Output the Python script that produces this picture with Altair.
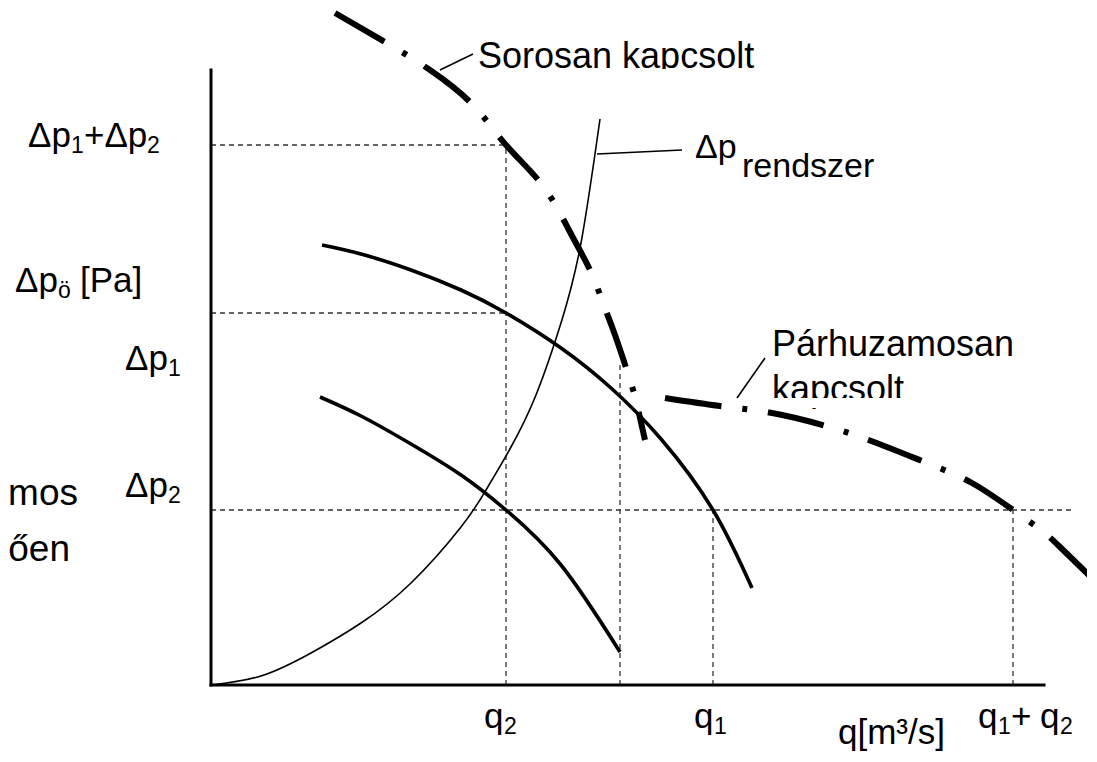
import altair as alt
import pandas as pd

# ---- reference levels (data units) ----
Q2, Q1, Q12, Q_MID = 2.95, 5.02, 8.02, 4.09
DP1, DP2, DP12 = 3.72, 1.75, 5.40

# ---- curves ----
sys_q = [0.0, 0.5, 1.0, 1.5, 2.0, 2.5, 2.75, 3.0, 3.25, 3.5, 3.7, 3.89]
sys_dp = [0.0, 0.09, 0.32, 0.62, 1.02, 1.58, 1.95, 2.38, 2.90, 3.62, 4.42, 5.66]

pump1_q = [1.11, 1.5, 2.0, 2.5, 2.95, 3.5, 4.0, 4.5, 5.02, 5.41]
pump1_dp = [4.40, 4.31, 4.15, 3.95, 3.72, 3.37, 2.97, 2.46, 1.75, 0.97]

pump2_q = [1.09, 1.5, 2.0, 2.5, 2.95, 3.5, 4.09]
pump2_dp = [2.88, 2.69, 2.41, 2.10, 1.75, 1.20, 0.33]

series_q = [1.24, 1.74, 2.19, 2.62, 2.95, 3.32, 3.59, 3.79, 3.92, 4.04, 4.19, 4.26, 4.34]
series_dp = [6.72, 6.43, 6.15, 5.80, 5.40, 4.99, 4.53, 4.15, 3.82, 3.50, 3.05, 2.80, 2.45]

par_q = [4.54, 5.09, 5.61, 6.15, 6.63, 7.16, 7.61, 8.02, 8.30, 8.49, 8.86]
par_dp = [2.87, 2.79, 2.72, 2.59, 2.43, 2.22, 2.02, 1.75, 1.55, 1.38, 1.02]

# ---- chart geometry ----
W, H = 1079, 744
XS = alt.Scale(domain=[-2.03, 8.76], nice=False, zero=False)
YS = alt.Scale(domain=[-0.67, 6.77], nice=False, zero=False)
FONT = "Liberation Sans"


def curve_df(q, dp, name):
    return pd.DataFrame({"q": q, "dp": dp, "i": range(len(q)), "c": name})


def X(f="q"):
    return alt.X(f"{f}:Q", scale=XS, axis=None)


def Y(f="dp"):
    return alt.Y(f"{f}:Q", scale=YS, axis=None)


# axes
axes_df = pd.DataFrame({"x": [0, 0], "y": [0, 0], "x2": [0, 8.33], "y2": [6.15, 0]})
axes = alt.Chart(axes_df).mark_rule(color="black", strokeWidth=3, strokeCap="square").encode(
    x=X("x"), y=Y("y"), x2="x2:Q", y2="y2:Q")

# dashed guides
guides_df = pd.DataFrame([
    (0, DP12, Q2, DP12),
    (0, DP1, Q2, DP1),
    (0, DP2, 8.64, DP2),
    (Q2, 0, Q2, DP12),
    (Q_MID, 0, Q_MID, 3.22),
    (Q1, 0, Q1, DP2),
    (Q12, 0, Q12, DP2),
], columns=["x", "y", "x2", "y2"])
guides = alt.Chart(guides_df).mark_rule(color="#333333", strokeWidth=1.3, strokeDash=[5, 4]).encode(
    x=X("x"), y=Y("y"), x2="x2:Q", y2="y2:Q")

pumps_df = pd.concat([curve_df(pump1_q, pump1_dp, "p1"), curve_df(pump2_q, pump2_dp, "p2")])
pumps = alt.Chart(pumps_df).mark_line(color="black", strokeWidth=3.6, interpolate="natural").encode(
    x=X(), y=Y(), detail="c:N", order="i:Q")

system = alt.Chart(curve_df(sys_q, sys_dp, "sys")).mark_line(
    color="black", strokeWidth=1.6, interpolate="natural").encode(x=X(), y=Y(), order="i:Q")

dashdot_df = pd.concat([curve_df(series_q, series_dp, "ser"), curve_df(par_q, par_dp, "par")])
dashdot = alt.Chart(dashdot_df).mark_line(
    color="black", strokeWidth=6, strokeDash=[57, 21, 5, 21], strokeCap="butt",
    interpolate="natural", clip=True).encode(x=X(), y=Y(), detail="c:N", order="i:Q")

# leader lines
lead_df = pd.DataFrame([
    (2.29, 6.15, 2.62, 6.31),
    (3.86, 5.31, 4.71, 5.35),
    (5.26, 2.87, 5.54, 3.27),
], columns=["x", "y", "x2", "y2"])
leaders = alt.Chart(lead_df).mark_rule(color="black", strokeWidth=1.6).encode(
    x=X("x"), y=Y("y"), x2="x2:Q", y2="y2:Q")

# white boxes that cut the bottoms of the label text (as in the source figure)
mask_df = pd.DataFrame([
    (2.65, 6.00, 5.54, 6.16),
    (5.59, 2.77, 7.14, 2.87),
], columns=["x", "y", "x2", "y2"])
masks = alt.Chart(mask_df).mark_rect(color="white").encode(
    x=X("x"), y=Y("y"), x2="x2:Q", y2="y2:Q")

# text labels
txt_rows = [
    # y-axis labels
    (-1.83, 5.38, "Δp", 35), (-1.40, 5.32, "1", 23), (-1.27, 5.38, "+Δp", 35), (-0.64, 5.32, "2", 23),
    (-1.96, 3.93, "Δp", 35), (-1.53, 3.87, "ö", 23), (-1.31, 3.93, "[Pa]", 35),
    (-0.86, 3.15, "Δp", 35), (-0.43, 3.09, "1", 23),
    (-0.86, 1.88, "Δp", 35), (-0.43, 1.82, "2", 23),
    # x-axis labels
    (2.73, -0.43, "q", 35), (2.93, -0.49, "2", 23),
    (4.83, -0.43, "q", 35), (5.03, -0.49, "1", 23),
    (7.67, -0.43, "q", 35), (7.87, -0.49, "1", 23), (8.00, -0.43, "+", 35),
    (8.29, -0.43, "q", 35), (8.49, -0.49, "2", 23),
    (6.27, -0.59, "q[m³/s]", 35),
    # curve labels
    (2.67, 6.17, "Sorosan kapcsolt", 36),
    (4.84, 5.27, "Δp", 34), (5.31, 5.08, "rendszer", 34),
    (5.61, 3.29, "Párhuzamosan", 36), (5.61, 2.84, "kapcsolt", 36),
]
txt_df = pd.DataFrame(txt_rows, columns=["x", "y", "t", "s"])
texts = alt.Chart(txt_df).mark_text(align="left", baseline="alphabetic", font=FONT, color="black").encode(
    x=X("x"), y=Y("y"), text="t:N", size=alt.Size("s:Q", scale=None, legend=None))

# fragments of neighbouring text at the left edge
frag_df = pd.DataFrame([(-1.33, 1.80, "mos", 37), (-1.41, 1.24, "ően", 37)], columns=["x", "y", "t", "s"])
frags = alt.Chart(frag_df).mark_text(align="right", baseline="alphabetic", font=FONT, color="black").encode(
    x=X("x"), y=Y("y"), text="t:N", size=alt.Size("s:Q", scale=None, legend=None))

chart = alt.layer(
    guides, axes, system, pumps, dashdot, leaders, texts, frags, masks,
).properties(
    width=W, height=H, padding=0, autosize=alt.AutoSizeParams(type="none"),
    background="white",
).configure_view(stroke=None)

chart.save("out.html", embed_options={"renderer": "svg", "actions": False})
